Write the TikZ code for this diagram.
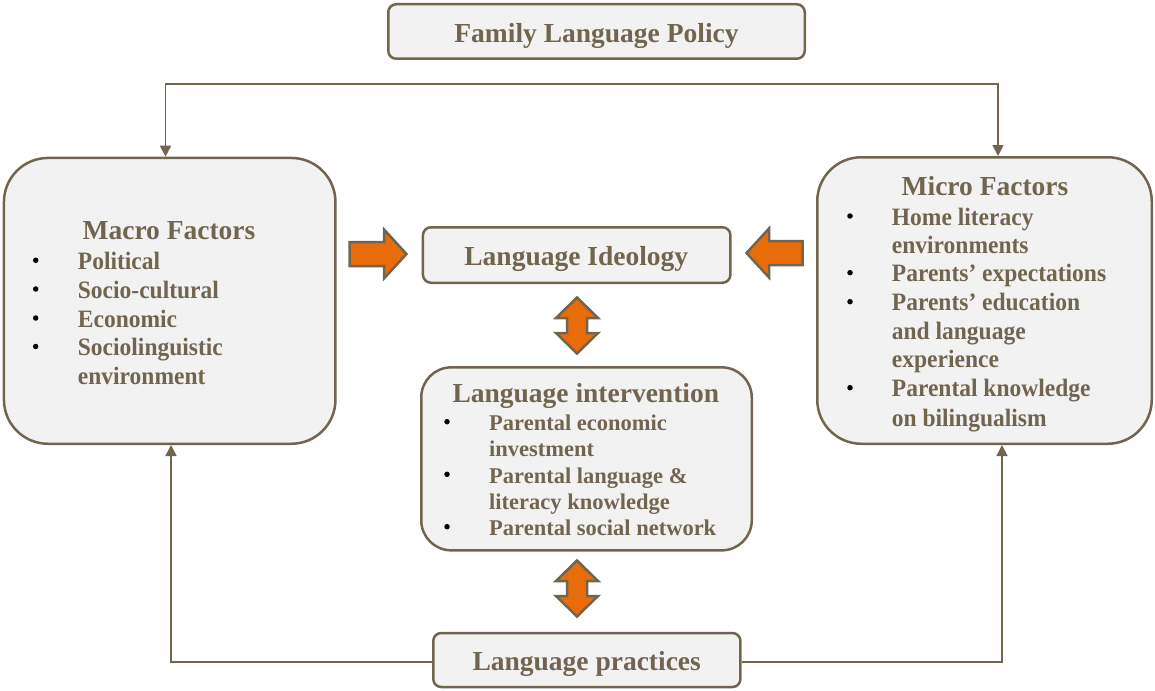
\documentclass[tikz,border=0pt]{standalone}
\usepackage{fontspec}
\setmainfont{Liberation Serif}
\newfontfamily\itmfont[FakeStretch=0.94]{Liberation Serif}
\usetikzlibrary{arrows.meta}
\definecolor{brn}{HTML}{726550}
\definecolor{boxfill}{HTML}{F2F2F2}
\definecolor{org}{HTML}{E96C0A}
\begin{document}
\begin{tikzpicture}[x=1pt,y=-1pt,
  box/.style={draw=brn, line width=2.5pt, fill=boxfill, inner sep=0pt},
  conn/.style={draw=brn, line width=1.5pt},
  tipend/.style={-{Triangle[width=11pt,length=11pt]}},
  tipboth/.style={{Triangle[width=11pt,length=11pt]}-{Triangle[width=11pt,length=11pt]}},
  blockarrow/.style={draw=brn, line width=2.5pt, fill=org, line join=miter},
  ttl/.style={text=brn, font=\fontsize{27.5}{33}\selectfont\bfseries, inner sep=0pt, anchor=base},
  itm/.style={text=brn, font=\itmfont\fontsize{25}{28}\selectfont\bfseries, inner sep=0pt, anchor=base west},
  itms/.style={text=brn, font=\fontsize{22.5}{27}\selectfont\bfseries, inner sep=0pt, anchor=base west},
  bul/.style={circle, fill=black, minimum size=5.5pt, inner sep=0pt, yshift=9pt},
]
\useasboundingbox (0,0) rectangle (1155,690);

% boxes
\node[box, rounded corners=8pt, minimum width=416.5pt, minimum height=54.5pt] (flp) at (596.5,31.5) {};
\node[box, rounded corners=44pt, minimum width=331.5pt, minimum height=285.8pt] (macro) at (169.7,300.85) {};
\node[box, rounded corners=44pt, minimum width=334.5pt, minimum height=286.5pt] (micro) at (984.5,300.5) {};
\node[box, rounded corners=8pt, minimum width=307.5pt, minimum height=55.5pt] (ideo) at (576.7,255) {};
\node[box, rounded corners=30pt, minimum width=330.5pt, minimum height=183pt] (interv) at (586.5,458.85) {};
\node[box, rounded corners=8pt, minimum width=307.2pt, minimum height=54pt] (prac) at (586.85,660) {};

% titles
\node[ttl] (flpt) at (596.5,42.2) {Family Language Policy};
\node[ttl] (macrot) at (169,239) {Macro Factors};
\node[ttl] (microt) at (985,195.7) {Micro Factors};
\node[ttl] (ideot) at (576.3,265.7) {Language Ideology};
\node[ttl] (intervt) at (585.8,402.7) {Language intervention};
\node[ttl] (pract) at (586.7,670.7) {Language practices};

% macro items
\node[itm] (ma1) at (77.7,269.3) {Political};
\node[itm] (ma2) at (77.7,298) {Socio-cultural};
\node[itm] (ma3) at (77.7,327) {Economic};
\node[itm] (ma4) at (77.7,355.5) {Sociolinguistic};
\node[itm] (ma5) at (77.7,384) {environment};
\node[bul] (mb1) at (35.7,269.3) {};
\node[bul] (mb2) at (35.7,298) {};
\node[bul] (mb3) at (35.7,327) {};
\node[bul] (mb4) at (35.7,355.5) {};

% micro items
\node[itm] (mi1) at (891.7,225) {Home literacy};
\node[itm] (mi2) at (891.7,253.3) {environments};
\node[itm] (mi3) at (891.7,281.7) {Parents’ expectations};
\node[itm] (mi4) at (891.7,310.7) {Parents’ education};
\node[itm] (mi5) at (891.7,339) {and language};
\node[itm] (mi6) at (891.7,367.3) {experience};
\node[itm] (mi7) at (891.7,396.7) {Parental knowledge};
\node[itm] (mi8) at (891.7,426) {on bilingualism};
\node[bul] (mib1) at (850,225) {};
\node[bul] (mib3) at (850,281.7) {};
\node[bul] (mib4) at (850,310.7) {};
\node[bul] (mib7) at (850,396.7) {};

% intervention items
\node[itms] (iv1) at (489,430.7) {Parental economic};
\node[itms] (iv2) at (489,456.7) {investment};
\node[itms] (iv3) at (489,483.3) {Parental language \&};
\node[itms] (iv4) at (489,509.3) {literacy knowledge};
\node[itms] (iv5) at (489,535.7) {Parental social network};
\node[bul] (ivb1) at (447,430.7) {};
\node[bul] (ivb3) at (447,483.3) {};
\node[bul] (ivb5) at (447,535.7) {};

% connectors
\coordinate (tl) at (165.5,84);
\coordinate (tr) at (998,84);
\coordinate (bl) at (171,662);
\coordinate (br) at (1002,662);
\draw[conn, tipboth] (tl |- macro.north) -- (tl) -- (tr) -- (tr |- micro.north);
\draw[conn, tipend] (prac.west |- bl) -- (bl) -- (bl |- macro.south);
\draw[conn, tipend] (prac.east |- br) -- (br) -- (br |- micro.south);

% block arrows
\draw[blockarrow] (349.5,242) -- (384,242) -- (384,229.5) -- (406.5,254) -- (384,278.5) -- (384,266) -- (349.5,266) -- cycle;
\draw[blockarrow] (802.5,241) -- (769,241) -- (769,228.5) -- (746.5,253) -- (769,277.5) -- (769,265) -- (802.5,265) -- cycle;
\draw[blockarrow] (577,297.5) -- (598,318) -- (587,318) -- (587,333) -- (598,333) -- (577,353.5) -- (556,333) -- (567,333) -- (567,318) -- (556,318) -- cycle;
\draw[blockarrow] (577,560.5) -- (598,581) -- (587,581) -- (587,596) -- (598,596) -- (577,616.5) -- (556,596) -- (567,596) -- (567,581) -- (556,581) -- cycle;
\end{tikzpicture}
\end{document}
